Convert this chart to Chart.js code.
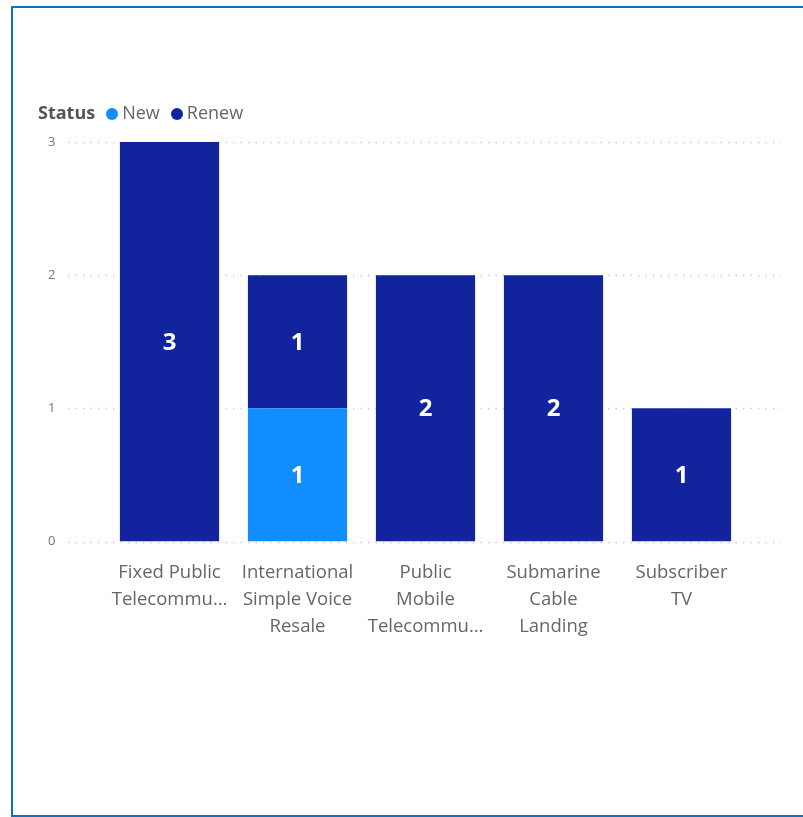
<!DOCTYPE html>
<html>
<head>
<meta charset="utf-8">
<script src="https://cdn.jsdelivr.net/npm/chart.js@4/dist/chart.umd.min.js"></script>
<style>
  html, body { margin: 0; padding: 0; background: #fff; overflow: hidden; }
  #wrap { position: relative; width: 803px; height: 817px; }
  #frame { position: absolute; left: 11px; top: 6px; width: 800px; height: 807px;
           border: 2px solid #1170C1; border-right: none; box-sizing: content-box; pointer-events: none; }
  #legend { position: absolute; left: 38px; top: 100px; font-family: "Open Sans", "Noto Sans", sans-serif;
            font-size: 18px; color: #666; white-space: nowrap; line-height: 24px; }
  #legend b { color: #555; font-weight: 700; margin-right: 11px; }
  #legend .dot { display: inline-block; width: 12px; height: 12px; border-radius: 50%; vertical-align: -1px; margin-right: 4px; }
  #legend .item { margin-right: 11px; }
  canvas { position: absolute; left: 0; top: 0; }
</style>
</head>
<body>
<div id="wrap">
  <canvas id="c" width="803" height="817"></canvas>
  <div id="legend"></div>
  <div id="frame"></div>
</div>
<script>
// ---- data ----
const categories = [
  ["Fixed Public", "Telecommu…"],
  ["International", "Simple Voice", "Resale"],
  ["Public", "Mobile", "Telecommu…"],
  ["Submarine", "Cable", "Landing"],
  ["Subscriber", "TV"]
];
const legendTitle = "Status";
const seriesNames = ["New", "Renew"];
const newValues = [0, 1, 0, 0, 0];
const renewValues = [3, 1, 2, 2, 1];
const yTicks = [0, 1, 2, 3];

const colors = { New: "#118DFF", Renew: "#12239E" };
const FONT = '"Open Sans", "Noto Sans", sans-serif';

// legend (HTML text)
const lg = document.getElementById('legend');
lg.innerHTML = '<b>' + legendTitle + '</b>' + seriesNames.map(n =>
  '<span class="item"><span class="dot" style="background:' + colors[n] + '"></span>' + n + '</span>').join('');

// dotted grid lines spanning wider than the bar area
const dottedGrid = {
  id: 'dottedGrid',
  beforeDatasetsDraw(chart) {
    const ctx = chart.ctx, y = chart.scales.y;
    ctx.save();
    ctx.strokeStyle = '#c6c6c6';
    ctx.lineWidth = 1.3;
    ctx.setLineDash([1.3, 6.2]);
    yTicks.forEach(v => {
      const py = Math.round(y.getPixelForValue(v)) + 0.5;
      ctx.beginPath();
      ctx.moveTo(68, py);
      ctx.lineTo(781, py);
      ctx.stroke();
    });
    ctx.restore();
  }
};

// value labels centred in each segment
const valueLabels = {
  id: 'valueLabels',
  afterDatasetsDraw(chart) {
    const ctx = chart.ctx;
    ctx.save();
    ctx.fillStyle = '#ffffff';
    ctx.font = 'bold 24px ' + FONT;
    ctx.textAlign = 'center';
    ctx.textBaseline = 'middle';
    chart.data.datasets.forEach((ds, di) => {
      const meta = chart.getDatasetMeta(di);
      meta.data.forEach((el, i) => {
        const v = ds.data[i];
        if (!v) return;
        ctx.fillText(String(v), el.x, (el.y + el.base) / 2 + 1);
      });
    });
    ctx.restore();
  }
};

new Chart(document.getElementById('c'), {
  type: 'bar',
  data: {
    labels: categories,
    datasets: [
      { label: seriesNames[0], data: newValues, backgroundColor: colors.New, borderWidth: 0 },
      { label: seriesNames[1], data: renewValues, backgroundColor: colors.Renew, borderWidth: 0 }
    ]
  },
  options: {
    responsive: false,
    animation: false,
    devicePixelRatio: 1,
    layout: { padding: { left: 0, top: 142, right: 57.5, bottom: 0 } },
    plugins: { legend: { display: false }, tooltip: { enabled: false } },
    datasets: { bar: { categoryPercentage: 1, barPercentage: 0.775 } },
    scales: {
      x: {
        stacked: true,
        grid: { display: false },
        border: { display: false },
        afterFit(s) { s.height = 275.5; },
        ticks: {
          color: '#666',
          font: { family: FONT, size: 18.5, lineHeight: 1.46 },
          padding: 10,
          maxRotation: 0, minRotation: 0, autoSkip: false
        }
      },
      y: {
        stacked: true,
        min: 0, max: 3,
        grid: { display: false, drawTicks: false },
        border: { display: false },
        afterFit(s) { s.width = 105.5; },
        afterBuildTicks(s) { s.ticks = yTicks.map(v => ({ value: v })); },
        ticks: {
          color: '#777',
          font: { family: FONT, size: 13 },
          padding: 50
        }
      }
    }
  },
  plugins: [dottedGrid, valueLabels]
});
</script>
</body>
</html>
